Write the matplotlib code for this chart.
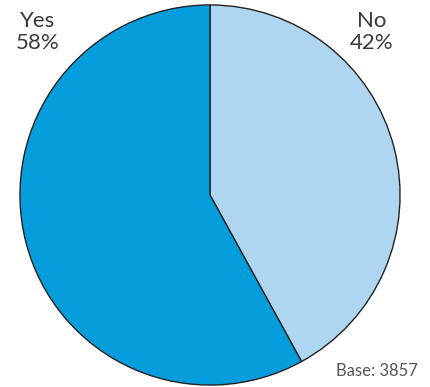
import matplotlib.pyplot as plt

labels = ['No', 'Yes']
values = [42, 58]
colors = ['#aed6f1', '#069ddd']
base_n = 3857

fig = plt.figure(figsize=(4.30, 3.87), dpi=100)
ax = fig.add_axes([19 / 430, 1 / 387, 382 / 430, 382 / 387])

ax.pie(values, colors=colors, startangle=90, counterclock=False, radius=1,
       wedgeprops=dict(edgecolor='#222222', linewidth=1.0))
ax.set_xlim(-1.005, 1.005)
ax.set_ylim(-1.005, 1.005)
ax.set_aspect('equal')
ax.axis('off')

fig.text(38 / 430, 1 - 32 / 387, f'{labels[1]}\n{values[1]}%', ha='center', va='center',
         fontsize=16, color='#3a3a3a', family='Lato', linespacing=1.1)
fig.text(372 / 430, 1 - 32 / 387, f'{labels[0]}\n{values[0]}%', ha='center', va='center',
         fontsize=16, color='#3a3a3a', family='Lato', linespacing=1.1)
fig.text(418 / 430, 1 - 371 / 387, f'Base: {base_n}', ha='right', va='center',
         fontsize=12, color='#555555', family='Lato')

fig.savefig('out.png', dpi=100)
